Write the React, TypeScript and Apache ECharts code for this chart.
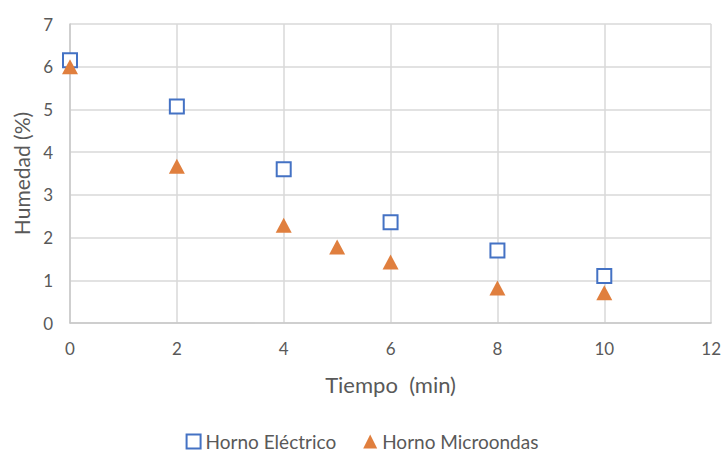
import React, { useEffect, useRef } from "react";
import * as echarts from "echarts";

const electricX = [0, 2, 4, 6, 8, 10];
const electricY = [6.15, 5.07, 3.6, 2.36, 1.7, 1.1];
const microX = [0, 2, 4, 5, 6, 8, 10];
const microY = [6.0, 3.67, 2.29, 1.78, 1.43, 0.82, 0.71];
const seriesNames = ["Horno Eléctrico", "Horno Microondas"];
const xTitle = "Tiempo  (min)";
const yTitle = "Humedad (%)";

export default function App() {
  const ref = useRef<HTMLDivElement>(null);
  useEffect(() => {
    if (!ref.current) return;
    const chart = echarts.init(ref.current, undefined, { renderer: "svg" });
    const font = "Lato, 'Liberation Sans', sans-serif";
    const textColor = "#595959";
    chart.setOption({
      animation: false,
      backgroundColor: "#ffffff",
      textStyle: { fontFamily: font },
      grid: { left: 70, right: 9, top: 24, bottom: 129, containLabel: false },
      xAxis: {
        type: "value",
        min: 0,
        max: 12,
        interval: 2,
        name: xTitle,
        nameLocation: "middle",
        nameMoveOverlap: false,
        nameGap: 61,
        nameTextStyle: { color: textColor, fontSize: 22, fontFamily: font, verticalAlign: "middle" },
        axisLine: { show: true, lineStyle: { color: "#C8C8C8", width: 1.5 } },
        axisTick: { show: false },
        axisLabel: { color: textColor, fontSize: 17, margin: 17, fontFamily: font },
        splitLine: { show: true, lineStyle: { color: "#D9D9D9", width: 1.5 } },
      },
      yAxis: {
        type: "value",
        min: 0,
        max: 7,
        interval: 1,
        name: yTitle,
        nameLocation: "middle",
        nameMoveOverlap: false,
        nameGap: 49,
        nameRotate: 90,
        nameTextStyle: { color: textColor, fontSize: 21, fontFamily: font, verticalAlign: "middle" },
        axisLine: { show: true, lineStyle: { color: "#C8C8C8", width: 1.5 } },
        axisTick: { show: false },
        axisLabel: { color: textColor, fontSize: 17, margin: 17, fontFamily: font },
        splitLine: { show: true, lineStyle: { color: "#D9D9D9", width: 1.5 } },
      },
      legend: {
        top: 432,
        left: "center",
        padding: 0,
        itemGap: 27,
        itemWidth: 14,
        itemHeight: 14,
        textStyle: { color: textColor, fontSize: 19, lineHeight: 17, fontFamily: font },
        data: [
          { name: seriesNames[0], icon: "rect", itemStyle: { color: "#ffffff", borderColor: "#4472C4", borderWidth: 2 } },
          { name: seriesNames[1], icon: "triangle", itemStyle: { color: "#E07F3E" } },
        ],
      },
      series: [
        {
          name: seriesNames[0],
          type: "scatter",
          symbol: "rect",
          symbolSize: 14,
          itemStyle: { color: "#ffffff", borderColor: "#4472C4", borderWidth: 2, opacity: 1 },
          data: electricX.map((x, i) => [x, electricY[i]]),
          z: 3,
        },
        {
          name: seriesNames[1],
          type: "scatter",
          symbol: "triangle",
          symbolSize: [16, 15],
          itemStyle: { color: "#E07F3E", opacity: 1 },
          data: microX.map((x, i) => [x, microY[i]]),
          z: 4,
        },
      ],
    });
    return () => chart.dispose();
  }, []);
  return <div ref={ref} style={{ width: 724, height: 452, position: "absolute", left: 0, top: 0 }} />;
}
